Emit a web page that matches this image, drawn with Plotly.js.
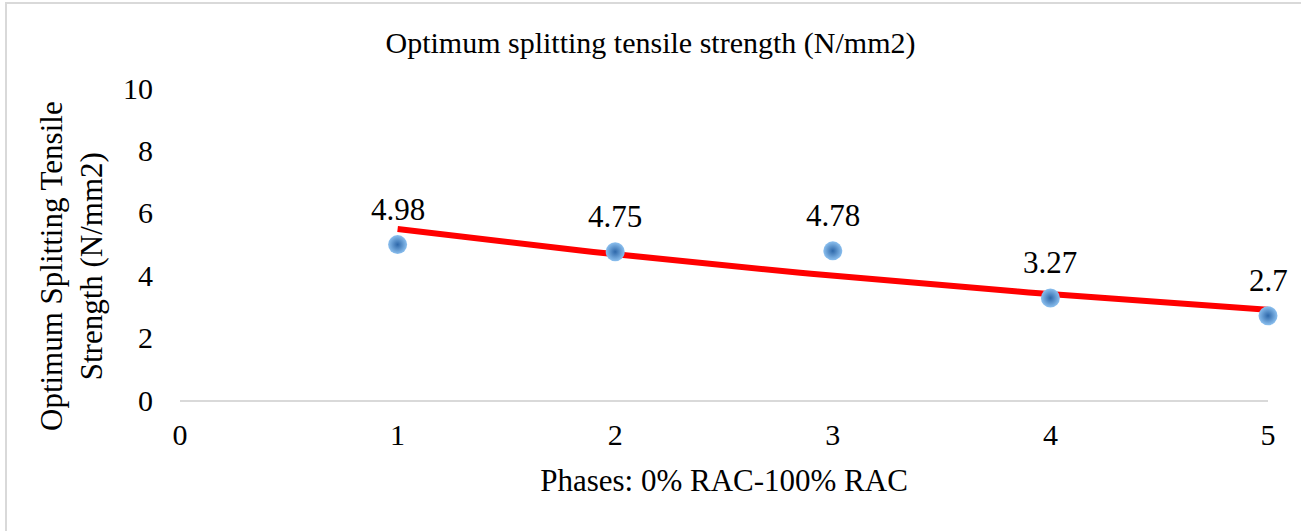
<!DOCTYPE html>
<html>
<head>
<meta charset="utf-8">
<script src="https://cdn.plot.ly/plotly-3.0.1.min.js"></script>
<style>
html,body{margin:0;padding:0;background:#fff;overflow:hidden;}
#wrap{position:absolute;left:0;top:0;width:1301px;height:531px;}
#frame{position:absolute;left:5px;top:2px;width:1310px;height:540px;border:2px solid #d9d9d9;box-sizing:border-box;pointer-events:none;z-index:5;}
#chart{position:absolute;left:0;top:0;width:1301px;height:531px;}
</style>
</head>
<body>
<div id="wrap"><div id="chart"></div><div id="frame"></div></div>
<script>
const phases = [1, 2, 3, 4, 5];
const strength = [4.98, 4.75, 4.78, 3.27, 2.7];
const strengthLabels = ['4.98', '4.75', '4.78', '3.27', '2.7'];
const xTicks = [0, 1, 2, 3, 4, 5];
const yTicks = [0, 2, 4, 6, 8, 10];
const yTitle = 'Optimum Splitting Tensile<br>Strength (N/mm2)';
const xTitle = 'Phases: 0% RAC-100% RAC';
const chartTitle = 'Optimum splitting tensile strength (N/mm2)';

// Exponential trendline fitted to the data (least squares on ln y)
const n = phases.length;
const lx = phases.reduce((a, b) => a + b, 0) / n;
const ly = strength.map(Math.log).reduce((a, b) => a + b, 0) / n;
let sxy = 0, sxx = 0;
for (let i = 0; i < n; i++) { sxy += (phases[i] - lx) * (Math.log(strength[i]) - ly); sxx += (phases[i] - lx) ** 2; }
const bcoef = sxy / sxx, acoef = Math.exp(ly - bcoef * lx);
const tx = [], ty = [];
const x0 = Math.min(...phases), x1 = Math.max(...phases);
for (let k = 0; k <= 80; k++) { const x = x0 + (x1 - x0) * k / 80; tx.push(x); ty.push(acoef * Math.exp(bcoef * x)); }

const font = 'Liberation Serif, Times New Roman, serif';
const traces = [
  { x: tx, y: ty, mode: 'lines', line: { color: '#ff0000', width: 6 }, hoverinfo: 'skip', showlegend: false },
  { x: phases, y: strength, mode: 'markers',
    marker: { size: 19, color: '#8cc0ef', gradient: { type: 'radial', color: '#2e68aa' }, line: { width: 0 } },
    cliponaxis: false, showlegend: false }
];
const annotations = phases.map((p, i) => ({
  x: p, y: strength[i], xref: 'x', yref: 'y', text: strengthLabels[i], showarrow: false,
  yshift: 35, font: { family: font, size: 31, color: '#000' }
}));
annotations.push({
  xref: 'paper', yref: 'paper', x: (71 - 180) / 1088, y: (400 - 266) / 312,
  xanchor: 'center', yanchor: 'middle', textangle: -90, showarrow: false,
  text: yTitle, font: { family: font, size: 31, color: '#000' }
});
const layout = {
  width: 1301, height: 531,
  margin: { l: 180, r: 33, t: 88, b: 131 },
  paper_bgcolor: '#fff', plot_bgcolor: '#fff',
  font: { family: font, color: '#000' },
  annotations: annotations,
  title: { text: chartTitle, font: { family: font, size: 30, color: '#000' }, x: 0.5, xanchor: 'center', y: 1 - 42 / 531, yref: 'container', yanchor: 'middle' },
  xaxis: { range: [0, 5], tickvals: xTicks, ticktext: xTicks.map(String), showgrid: false, zeroline: false,
    showline: true, linecolor: '#d9d9d9', linewidth: 2, ticks: '', ticklabelstandoff: 7,
    tickfont: { family: font, size: 30, color: '#000' },
    title: { text: xTitle, font: { family: font, size: 31, color: '#000' }, standoff: 19 } },
  yaxis: { range: [0, 10], tickvals: yTicks, ticktext: yTicks.map(String), showgrid: false, zeroline: false,
    showline: false, ticks: '', ticklabelstandoff: 26,
    tickfont: { family: font, size: 30, color: '#000' } },
  showlegend: false
};
Plotly.newPlot('chart', traces, layout, { displayModeBar: false, staticPlot: true });
</script>
</body>
</html>
